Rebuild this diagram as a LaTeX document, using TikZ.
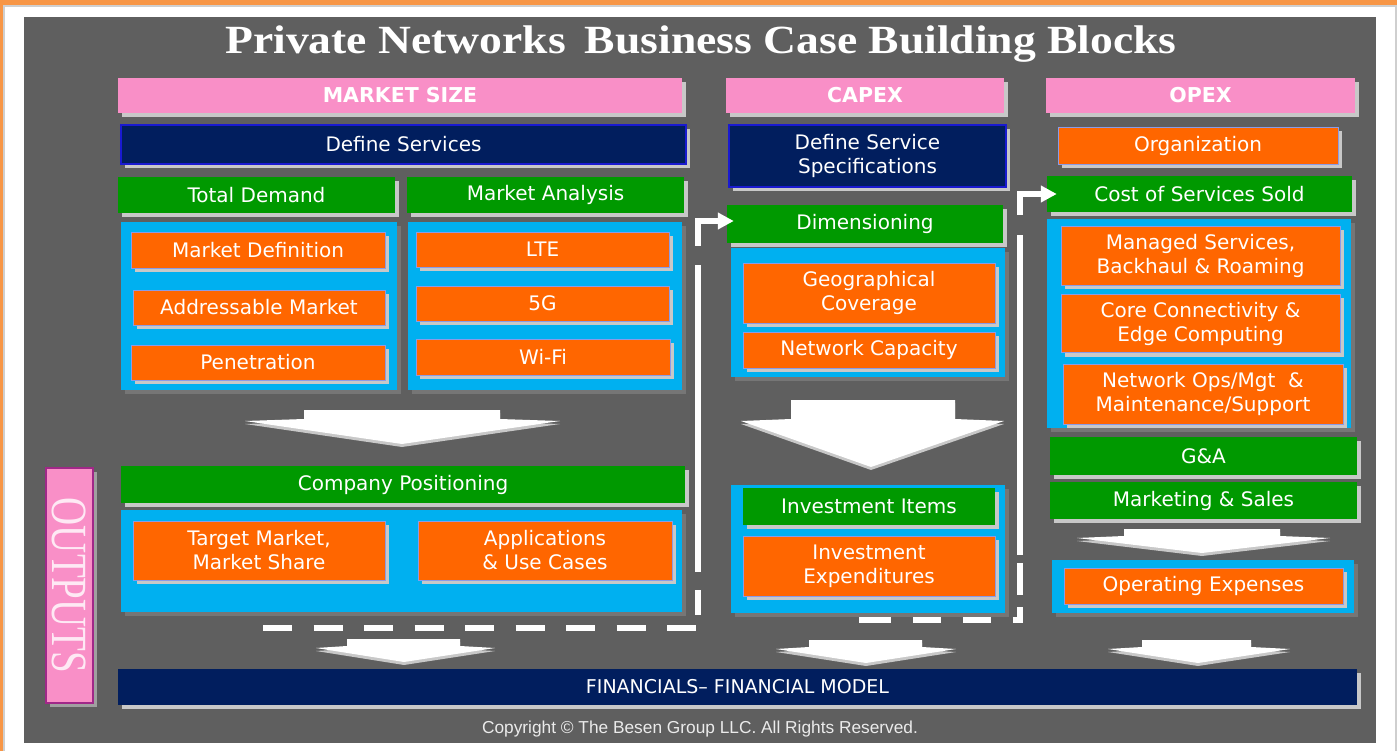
\documentclass[tikz,border=0pt]{standalone}
\usepackage{fontspec}
\usepackage{graphicx}
\setmainfont{DejaVu Sans}
\newfontfamily\titlefont{Liberation Serif}
\newfontfamily\notefont{Liberation Sans}
\usepackage{tikz}
\usetikzlibrary{shadows,arrows.meta}

\definecolor{panel}{HTML}{5F5F5F}
\definecolor{frameorange}{HTML}{F79646}
\definecolor{framegrey}{HTML}{CFCFCF}
\definecolor{hdrpink}{HTML}{F98FC7}
\definecolor{navy}{HTML}{011E5E}
\definecolor{rimblue}{HTML}{1A1AD0}
\definecolor{boxgreen}{HTML}{009900}
\definecolor{boxcyan}{HTML}{00B0F0}
\definecolor{boxorange}{HTML}{FF6600}
\definecolor{edgeblue}{HTML}{8A9BE8}
\definecolor{lightshade}{HTML}{C8C8C8}
\definecolor{darkshade}{HTML}{767676}
\definecolor{outpurple}{HTML}{A02888}

\pgfdeclarelayer{backlayer}
\pgfdeclarelayer{nodelayer}
\pgfsetlayers{backlayer,nodelayer,main}

\tikzset{
	blk/.style={inner sep=0pt, text=white, align=center, font=\fontsize{20}{24}\selectfont},
	lshade/.style={general shadow={fill=lightshade, shadow xshift=4pt, shadow yshift=-4pt}},
	header/.style={blk, lshade, fill=hdrpink, font=\fontsize{20.5}{24}\selectfont\bfseries},
	navybox/.style={blk, lshade, fill=navy},
	defbox/.style={navybox, draw=rimblue, line width=1.2pt},
	greenbox/.style={blk, lshade, fill=boxgreen},
	orangebox/.style={blk, lshade, fill=boxorange, draw=edgeblue, line width=0.8pt},
	cyanbox/.style={inner sep=0pt, fill=boxcyan, general shadow={fill=darkshade, shadow xshift=4pt, shadow yshift=-4pt}},
	outbox/.style={inner sep=0pt, fill=hdrpink, draw=outpurple, line width=1.5pt, general shadow={fill=lightshade!80!black, shadow xshift=4pt, shadow yshift=-4pt}},
	blockarrow/.style={fill=white, general shadow={fill=lightshade, shadow xshift=0pt, shadow yshift=-3pt}},
	loopline/.style={draw=white, line width=6.5pt, -{Triangle[length=16pt,width=16pt]}},
	capexloop/.style={loopline, dash pattern=on 29pt off 21.5pt on 29pt off 21.5pt on 29pt off 21.5pt on 29pt off 21.5pt on 29pt off 21.5pt on 29pt off 21.5pt on 29pt off 21.5pt on 29pt off 21.5pt on 29pt off 15pt on 25pt off 18pt on 307pt off 19pt on 300pt},
	opexloop/.style={loopline, dash pattern=on 32pt off 22pt on 28pt off 22pt on 28pt off 22pt on 20pt off 12pt on 32pt off 8pt on 320pt off 20pt on 300pt},
}

\begin{document}
\begin{tikzpicture}[x=1pt,y=-1pt]
	\useasboundingbox (0,0) rectangle (1397,751);
	\begin{pgfonlayer}{backlayer}
		% frame and grey panel
		\fill [white] (0,0) rectangle (1397,751);
		\fill [frameorange] (0,0) rectangle (1397,5);
		\fill [frameorange] (0,0) rectangle (3,751);
		\draw [framegrey, line width=1.5pt] (4,751) -- (4,6) -- (1397,6);
		\draw [framegrey, line width=2pt] (1395.5,6) -- (1395.5,751);
		\fill [panel] (24,17) rectangle (1376,743);
	\end{pgfonlayer}
	\begin{pgfonlayer}{nodelayer}
		\node [text=white, anchor=base, font=\titlefont\bfseries\fontsize{40}{46}\selectfont] (title) at (701,54) {\scalebox{1.14}[1]{Private Networks\, Business Case Building Blocks}};

		% market size
		\node [style=header, minimum width=564pt, minimum height=35pt] (mktsize) at (400,95.5) {MARKET SIZE};
		\node [style=defbox, minimum width=565pt, minimum height=39pt] (defsvc) at (403.5,144.5) {Define Services};
		\node [style=greenbox, minimum width=277pt, minimum height=36pt] (totdem) at (256.5,195) {Total Demand};
		\node [style=greenbox, minimum width=277pt, minimum height=36pt] (mktana) at (545.5,195) {Market Analysis};
		\node [style=cyanbox, minimum width=276pt, minimum height=168pt] (dembg) at (259,306) {};
		\node [style=cyanbox, minimum width=274pt, minimum height=168pt] (anabg) at (545,306) {};
		\node [style=orangebox, minimum width=254pt, minimum height=36pt] (mktdef) at (258,250) {Market Definition};
		\node [style=orangebox, minimum width=252pt, minimum height=35pt] (addr) at (259,307.5) {Addressable Market};
		\node [style=orangebox, minimum width=254pt, minimum height=35pt] (pen) at (258,362.5) {Penetration};
		\node [style=orangebox, minimum width=253pt, minimum height=35pt] (lte) at (542.5,249.5) {LTE};
		\node [style=orangebox, minimum width=253pt, minimum height=35pt] (fiveg) at (542.5,303.5) {5G};
		\node [style=orangebox, minimum width=254pt, minimum height=36pt] (wifi) at (543,357) {Wi-Fi};
		\node [style=greenbox, minimum width=564pt, minimum height=37pt] (comppos) at (403,484.5) {Company Positioning};
		\node [style=cyanbox, minimum width=561pt, minimum height=102pt] (posbg) at (401.5,561) {};
		\node [style=orangebox, minimum width=252pt, minimum height=59pt] (target) at (259,550.5) {Target Market,\\Market Share};
		\node [style=orangebox, minimum width=254pt, minimum height=59pt] (apps) at (545,550.5) {Applications\\\& Use Cases};

		% capex
		\node [style=header, minimum width=278pt, minimum height=35pt] (capex) at (865,95.5) {CAPEX};
		\node [style=defbox, minimum width=277pt, minimum height=62pt] (defspec) at (867.5,156) {Define Service\\Specifications};
		\node [style=greenbox, minimum width=276pt, minimum height=38pt] (dim) at (865,224) {Dimensioning};
		\node [style=cyanbox, minimum width=274pt, minimum height=129pt] (dimbg) at (868,312.5) {};
		\node [style=orangebox, minimum width=252pt, minimum height=60pt] (geo) at (869,293) {Geographical\\Coverage};
		\node [style=orangebox, minimum width=252pt, minimum height=36pt] (netcap) at (869,350) {Network Capacity};
		\node [style=cyanbox, minimum width=274pt, minimum height=128pt] (invbg) at (868,549) {};
		\node [style=greenbox, minimum width=252pt, minimum height=37pt] (invitems) at (869,506.5) {Investment Items};
		\node [style=orangebox, minimum width=252pt, minimum height=60pt] (invexp) at (869,566) {Investment\\Expenditures};

		% opex
		\node [style=header, minimum width=309pt, minimum height=35pt] (opex) at (1200.5,95.5) {OPEX};
		\node [style=orangebox, minimum width=280pt, minimum height=37pt] (org) at (1198,145.5) {Organization};
		\node [style=greenbox, minimum width=305pt, minimum height=36pt] (coss) at (1199.5,194) {Cost of Services Sold};
		\node [style=cyanbox, minimum width=304pt, minimum height=209pt] (opsbg) at (1199,323.5) {};
		\node [style=orangebox, minimum width=279pt, minimum height=59pt] (managed) at (1200.5,255.5) {Managed Services,\\Backhaul \& Roaming};
		\node [style=orangebox, minimum width=279pt, minimum height=58pt] (core) at (1200.5,323.5) {Core Connectivity \&\\Edge Computing};
		\node [style=orangebox, minimum width=280pt, minimum height=60pt] (netops) at (1203,394) {Network Ops/Mgt\ \ \&\\Maintenance/Support};
		\node [style=greenbox, minimum width=307pt, minimum height=38pt] (ga) at (1203.5,456) {G\&A};
		\node [style=greenbox, minimum width=307pt, minimum height=37pt] (mktsales) at (1203.5,500.5) {Marketing \& Sales};
		\node [style=cyanbox, minimum width=302pt, minimum height=53pt] (opbg) at (1203,586.5) {};
		\node [style=orangebox, minimum width=279pt, minimum height=36pt] (opexp) at (1203.5,586) {Operating Expenses};

		% outputs
		\node [style=outbox, rotate=-90, minimum width=235pt, minimum height=47pt, text=white!80!hdrpink, font=\titlefont\fontsize{39}{40}\selectfont] (outputs) at (69.5,585.5) {\scalebox{1}[1.3]{OUTPUTS}};
		\node [style=navybox, minimum width=1239pt, minimum height=36pt, font=\fontsize{19}{22}\selectfont] (fin) at (737.5,687) {FINANCIALS– FINANCIAL MODEL};
		\node [text=white!92!black, anchor=base, font=\notefont\fontsize{17.3}{20}\selectfont] (copy) at (700,733) {Copyright \textcopyright{} The Besen Group LLC. All Rights Reserved.};

		% block arrows
		\fill [style=blockarrow] (304,410) -- (500,410) -- (500,419) -- (560,421) -- (402,444) -- (245,421) -- (304,419) -- cycle;
		\fill [style=blockarrow] (791,400) -- (955,400) -- (955,419) -- (1004,421) -- (871,467) -- (741,421) -- (791,419) -- cycle;
		\fill [style=blockarrow] (1124,529) -- (1280,529) -- (1280,536) -- (1330,538) -- (1202,553) -- (1077,538) -- (1124,536) -- cycle;
		\fill [style=blockarrow] (347,639) -- (460,639) -- (460,646) -- (495,648) -- (404,662) -- (316,648) -- (347,646) -- cycle;
		\fill [style=blockarrow] (809,640) -- (922,640) -- (922,647) -- (956,649) -- (866,663) -- (776,649) -- (809,647) -- cycle;
		\fill [style=blockarrow] (1142,640) -- (1251,640) -- (1251,647) -- (1290,649) -- (1198,663) -- (1108,649) -- (1142,647) -- cycle;
	\end{pgfonlayer}

	% feedback loops into capex and opex
	\coordinate (posstart) at (263,628);
	\coordinate (invstart) at (859,620);
	\draw [style=capexloop] (posstart) -| ([xshift=-29pt,yshift=3pt]dim.west) -- ([xshift=7pt,yshift=3pt]dim.west);
	\draw [style=opexloop] (invstart) -| ([xshift=-27pt]coss.west) -- ([xshift=10pt]coss.west);
\end{tikzpicture}
\end{document}
